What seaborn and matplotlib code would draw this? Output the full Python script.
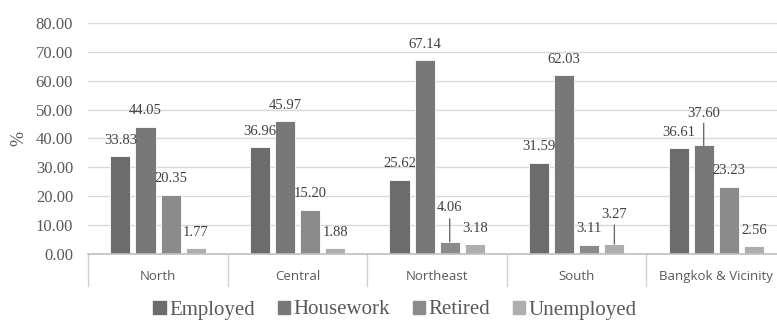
import numpy as np
import pandas as pd
import matplotlib
matplotlib.use('Agg')
import matplotlib.pyplot as plt
import matplotlib.transforms as mtransforms
import seaborn as sns

regions = ['North', 'Central', 'Northeast', 'South', 'Bangkok & Vicinity']
status = ['Employed', 'Housework', 'Retired', 'Unemployed']
employed = [33.83, 36.96, 25.62, 31.59, 36.61]
housework = [44.05, 45.97, 67.14, 62.03, 37.60]
retired = [20.35, 15.20, 4.06, 3.11, 23.23]
unemployed = [1.77, 1.88, 3.18, 3.27, 2.56]
colors = ['#6c6c6c', '#787878', '#8b8b8b', '#aeaeae']

df = pd.DataFrame({'Employed': employed, 'Housework': housework,
                   'Retired': retired, 'Unemployed': unemployed}, index=regions)
long_df = df.reset_index().melt(id_vars='index', var_name='status', value_name='pct')
long_df = long_df.rename(columns={'index': 'region'})

sns.set_style('white')
serif = ['Liberation Serif', 'DejaVu Serif']
sans = ['Open Sans', 'DejaVu Sans']

fig = plt.figure(figsize=(7.77, 3.2), dpi=100)
ax = fig.add_axes([88.3 / 777, 66.5 / 320, (786 - 88.3) / 777, 230.2 / 320])

sns.barplot(data=long_df, x='region', y='pct', hue='status', order=regions,
            hue_order=status, palette=colors, width=0.72, gap=0.2,
            edgecolor='white', linewidth=0.6, ax=ax, legend=False)

ax.set_ylim(0, 80)
ax.set_xlim(-0.5, len(regions) - 0.5)
ax.set_yticks(np.arange(0, 81, 10))
ax.set_yticklabels([f'{v:.2f}' for v in np.arange(0, 81, 10)],
                   family=serif, fontsize=12, color='#595959')
ax.yaxis.grid(True, color='#d9d9d9', linewidth=1)
ax.set_axisbelow(True)
for s in ['top', 'right', 'left']:
    ax.spines[s].set_visible(False)
ax.spines['bottom'].set_color('#bfbfbf')
ax.spines['bottom'].set_linewidth(1.2)
ax.tick_params(axis='both', length=0)
ax.tick_params(axis='y', pad=11)
ax.tick_params(axis='x', pad=12)
ax.set_xticks(range(len(regions)))
ax.set_xticklabels(regions, family=sans, fontsize=9.5, color='#595959')
ax.set_xlabel('')
ax.set_ylabel('%', family=serif, fontsize=13, color='#595959', labelpad=6)

# category separators below the axis
trans = mtransforms.blended_transform_factory(ax.transData, ax.transAxes)
for i in range(len(regions) + 1):
    ax.plot([i - 0.5, i - 0.5], [0, -32 / 230.2], transform=trans,
            color='#d0d0d0', linewidth=1, clip_on=False)

# data labels, a few lifted with leader lines
lifted = {('Retired', 'Northeast'): (24.5, 16.5),
          ('Unemployed', 'South'): (21.6, 13.7),
          ('Housework', 'Bangkok & Vicinity'): (23.0, 15.8)}
for cont, st in zip(ax.containers, status):
    for bar, reg in zip(cont, regions):
        h = bar.get_height()
        xc = bar.get_x() + bar.get_width() / 2
        off = 11.5
        if (st, reg) in lifted:
            off, line = lifted[(st, reg)]
            ax.annotate('', xy=(xc, h), xytext=(0, line), textcoords='offset points',
                        arrowprops=dict(arrowstyle='-', color='#6c6c6c', lw=1,
                                        shrinkA=0, shrinkB=0))
        ax.annotate(f'{h:.2f}', xy=(xc, h), xytext=(0, off), textcoords='offset points',
                    ha='center', va='center', family=serif, fontsize=10.5,
                    color='#404040')

handles = [plt.Rectangle((0, 0), 1, 1, color=c) for c in colors]
fig.legend(handles, status, loc='center', bbox_to_anchor=(395 / 777, 10 / 320),
           ncol=4, frameon=False, handlelength=0.6, handleheight=0.6,
           handletextpad=0.15, columnspacing=1.1,
           prop={'family': serif, 'size': 15}, labelcolor='#595959')

fig.savefig('out.png', dpi=100)
